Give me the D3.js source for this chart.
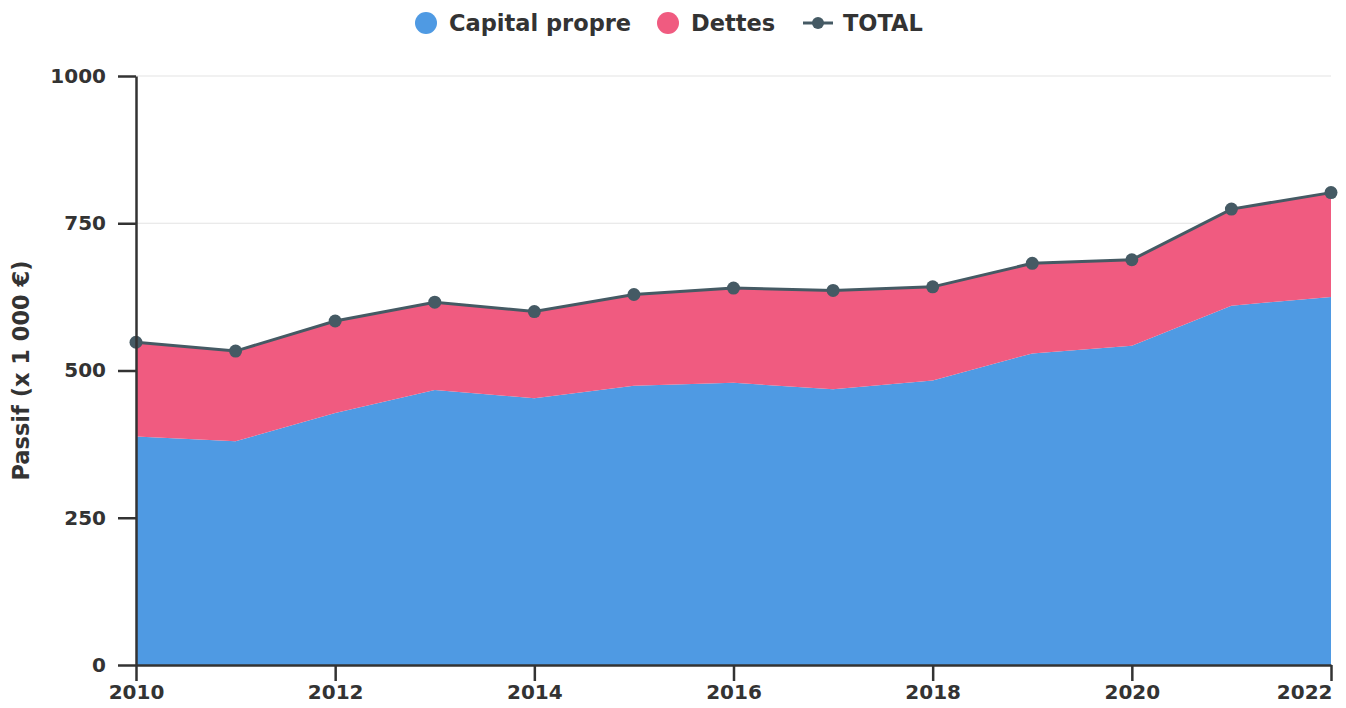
<!DOCTYPE html>
<html>
<head>
<meta charset="utf-8">
<script src="https://cdn.jsdelivr.net/npm/d3@7"></script>
<style>
  body { margin: 0; background: #fff; }
  svg text { font-family: "DejaVu Sans", sans-serif; font-weight: bold; fill: #333; }
</style>
</head>
<body>
<svg id="chart" width="1346" height="708"></svg>
<script>
// DATA
const years = [2010, 2011, 2012, 2013, 2014, 2015, 2016, 2017, 2018, 2019, 2020, 2021, 2022];
const capital = [388, 380, 428, 467, 453, 474, 479, 468, 483, 529, 542, 610, 625];
const dettes = [160, 153, 156, 149, 147, 155, 161, 168, 159, 153, 146, 164, 177];
const yTicks = [0, 250, 500, 750, 1000];
const xTicks = [2010, 2012, 2014, 2016, 2018, 2020, 2022];

const colors = { capital: "#4f9ae3", dettes: "#f05b80", total: "#455a64" };

const svg = d3.select("#chart");
const margin = { left: 136, right: 15, top: 76, bottom: 43 };
const W = 1346, H = 708;

const x = d3.scaleLinear().domain([2010, 2022]).range([margin.left, W - margin.right]);
const y = d3.scaleLinear().domain([0, 1000]).range([H - margin.bottom, margin.top]);

const rows = years.map((yr, i) => ({ year: yr, capital: capital[i], dettes: dettes[i] }));
const stacked = d3.stack().keys(["capital", "dettes"])(rows);

// gridlines
svg.append("g")
  .selectAll("line")
  .data(yTicks.filter(t => t > 0))
  .join("line")
  .attr("x1", x(2010)).attr("x2", x(2022))
  .attr("y1", d => y(d)).attr("y2", d => y(d))
  .attr("stroke", "#e3e3e3").attr("stroke-width", 1.2);

// stacked areas
const area = d3.area()
  .x(d => x(d.data.year))
  .y0(d => y(d[0]))
  .y1(d => y(d[1]));

svg.append("g")
  .selectAll("path")
  .data(stacked)
  .join("path")
  .attr("d", area)
  .attr("fill", d => colors[d.key]);

// total line + dots
const totals = rows.map(d => ({ year: d.year, v: d.capital + d.dettes }));
svg.append("path")
  .datum(totals)
  .attr("d", d3.line().x(d => x(d.year)).y(d => y(d.v)))
  .attr("fill", "none")
  .attr("stroke", colors.total)
  .attr("stroke-width", 3);

svg.append("g")
  .selectAll("circle")
  .data(totals)
  .join("circle")
  .attr("cx", d => x(d.year)).attr("cy", d => y(d.v))
  .attr("r", 6.5)
  .attr("fill", colors.total);

// axes
const yAxis = svg.append("g")
  .attr("transform", `translate(${margin.left},0)`)
  .call(d3.axisLeft(y).tickValues(yTicks).tickFormat(d3.format("d")).tickSize(18).tickPadding(12).tickSizeOuter(0));
const xAxis = svg.append("g")
  .attr("transform", `translate(0,${H - margin.bottom})`)
  .call(d3.axisBottom(x).tickValues(xTicks).tickFormat(d3.format("d")).tickSize(16).tickPadding(4).tickSizeOuter(0));

[yAxis, xAxis].forEach(a => {
  a.selectAll("path, line").attr("stroke", "#333").attr("stroke-width", 2.5);
  a.selectAll("text").attr("font-size", 20).attr("fill", "#333");
});
// last year label sits inside the right edge
xAxis.selectAll(".tick text")
  .filter(d => d === 2022)
  .attr("text-anchor", "end")
  .attr("x", 1);

// y axis title
svg.append("text")
  .attr("transform", `translate(29,${(margin.top + H - margin.bottom) / 2}) rotate(-90)`)
  .attr("text-anchor", "middle")
  .attr("font-size", 22.5)
  .text("Passif (x 1 000 €)");

// legend
const legend = svg.append("g").attr("transform", "translate(0,23)");
const items = [
  { label: "Capital propre", color: colors.capital, type: "dot", x: 426 },
  { label: "Dettes", color: colors.dettes, type: "dot", x: 668 },
  { label: "TOTAL", color: colors.total, type: "line", x: 818 }
];
items.forEach(it => {
  const g = legend.append("g").attr("transform", `translate(${it.x},0)`);
  if (it.type === "dot") {
    g.append("circle").attr("r", 11).attr("fill", it.color);
    g.append("text").attr("x", 23).attr("dy", "0.35em").attr("font-size", 22.5).text(it.label);
  } else {
    g.append("line").attr("x1", -15).attr("x2", 15).attr("stroke", it.color).attr("stroke-width", 3);
    g.append("circle").attr("r", 6).attr("fill", it.color);
    g.append("text").attr("x", 25).attr("dy", "0.35em").attr("font-size", 22.5).text(it.label);
  }
});
</script>
</body>
</html>
